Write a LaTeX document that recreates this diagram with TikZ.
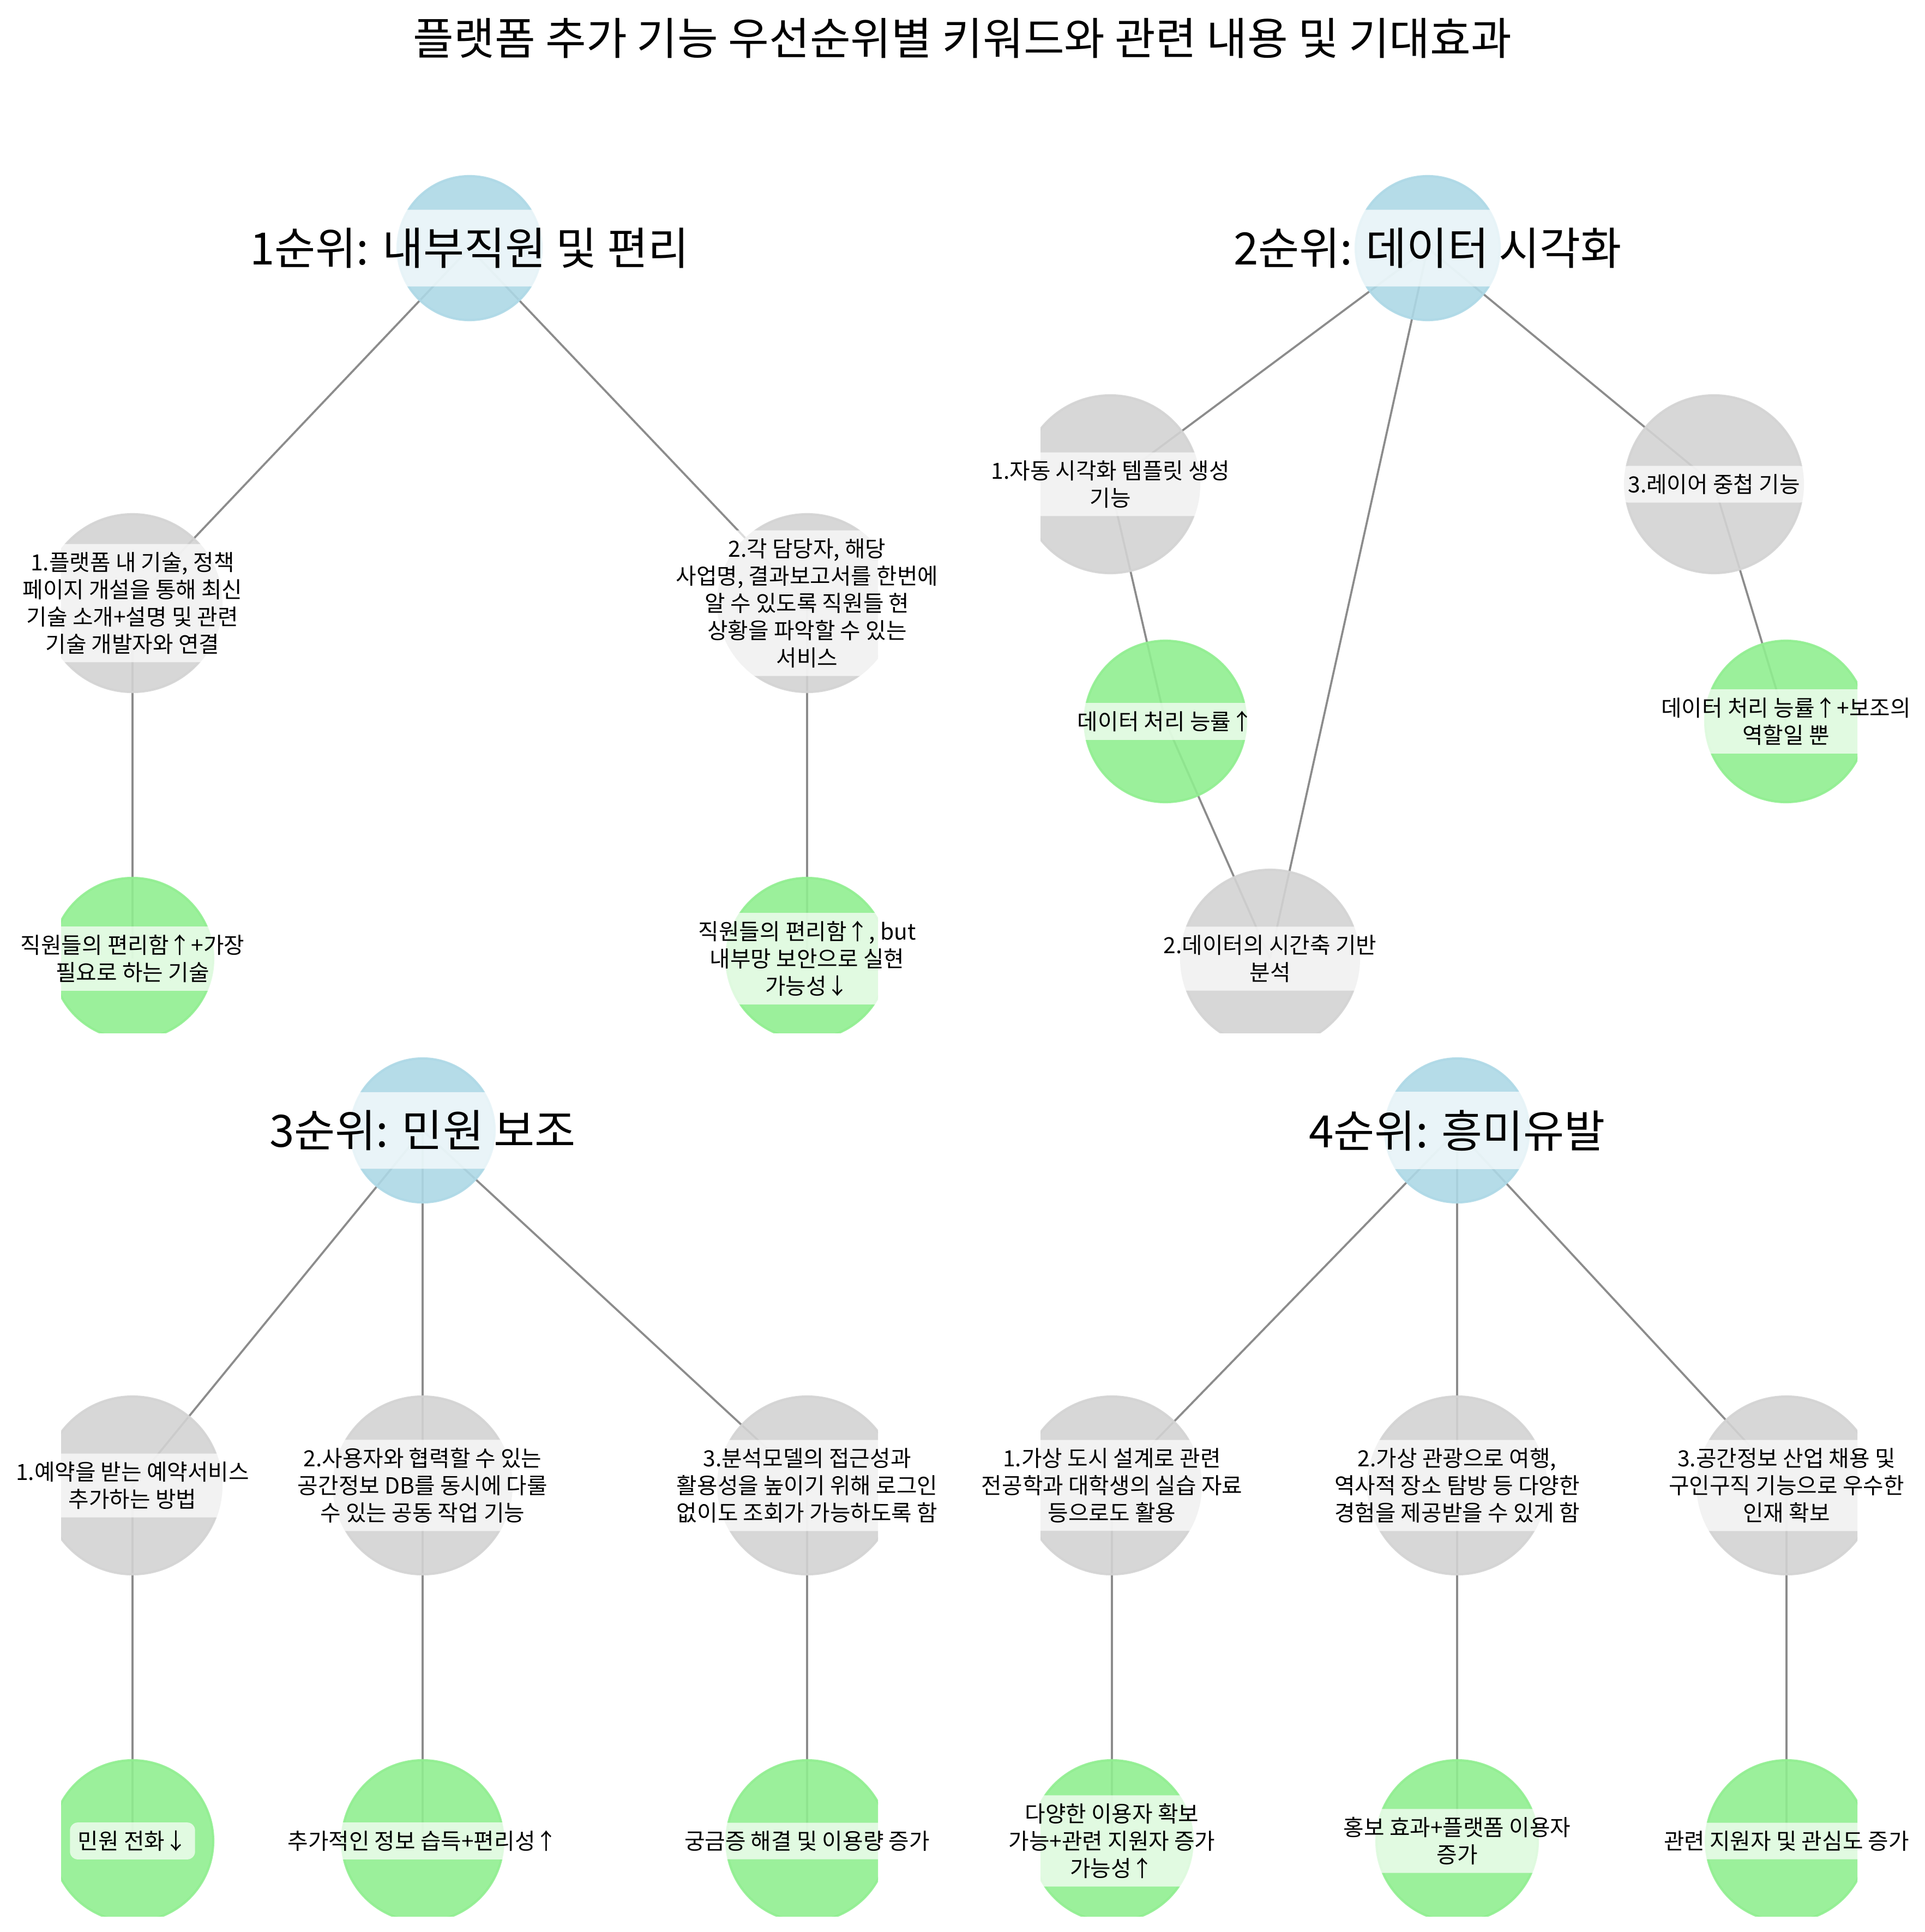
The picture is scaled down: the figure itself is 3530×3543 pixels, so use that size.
\documentclass[tikz,border=0pt]{standalone}
\usepackage{fontspec}
\setmainfont{Noto Sans CJK KR}
\definecolor{RootBlue}{HTML}{ADD8E6}
\definecolor{FeatGray}{HTML}{D3D3D3}
\definecolor{GainGreen}{HTML}{90EE90}
\definecolor{LinkGray}{HTML}{808080}
\tikzset{
  link/.style={draw=LinkGray, draw opacity=0.9, line width=0.9pt},
  rootdot/.style={fill=RootBlue, draw=RootBlue, fill opacity=0.9, draw opacity=0.9, line width=1pt},
  featdot/.style={fill=FeatGray, draw=FeatGray, fill opacity=0.9, draw opacity=0.9, line width=1pt},
  gaindot/.style={fill=GainGreen, draw=GainGreen, fill opacity=0.9, draw opacity=0.9, line width=1pt},
  lbl/.style={fill=white, fill opacity=0.7, text opacity=1, rounded corners=3.5pt,
    inner xsep=3.5pt, inner ysep=3.6pt, align=center, font=\fontsize{9.8}{12}\selectfont},
  rootlbl/.style={lbl, rounded corners=8pt, inner sep=8pt, font=\fontsize{19.6}{23}\selectfont},
}

\begin{document}
\begin{tikzpicture}[x=0.24pt, y=-0.24pt]
  \useasboundingbox (0,0) rectangle (3530,3543);

  \node[anchor=base, font=\fontsize{19.5}{23}\selectfont] (title) at (1765,101)
    {플랫폼 추가 기능 우선순위별 키워드와 관련 내용 및 기대효과};

  % 1순위
  \coordinate (s1r) at (861,455);
  \coordinate (s1f1) at (243,1106);
  \coordinate (s1f2) at (1480,1106);
  \coordinate (s1e1) at (243,1758);
  \coordinate (s1e2) at (1480,1758);
  \begin{scope}
    \clip (112,318) rectangle (1610,1894);
    \draw[link] (s1r) -- (s1f1);
    \draw[link] (s1r) -- (s1f2);
    \draw[link] (s1f1) -- (s1e1);
    \draw[link] (s1f2) -- (s1e2);
    \draw[rootdot] (s1r) circle[radius=132];
    \foreach \p in {s1f1,s1f2} \draw[featdot] (\p) circle[radius=163];
    \foreach \p in {s1e1,s1e2} \draw[gaindot] (\p) circle[radius=148];
  \end{scope}
  \node[rootlbl] (s1r-t) at (s1r) {1순위: 내부직원 및 편리};
  \node[lbl] (s1f1-t) at (s1f1) {1.플랫폼 내 기술, 정책\\페이지 개설을 통해 최신\\기술 소개+설명 및 관련\\기술 개발자와 연결};
  \node[lbl] (s1f2-t) at (s1f2) {2.각 담당자, 해당\\사업명, 결과보고서를 한번에\\알 수 있도록 직원들 현\\상황을 파악할 수 있는\\서비스};
  \node[lbl] (s1e1-t) at (s1e1) {직원들의 편리함↑+가장\\필요로 하는 기술};
  \node[lbl] (s1e2-t) at (s1e2) {직원들의 편리함↑, but\\내부망 보안으로 실현\\가능성↓};

  % 2순위
  \coordinate (s2r) at (2618,455);
  \coordinate (s2f1) at (2036,888);
  \coordinate (s2f2) at (2329,1758);
  \coordinate (s2f3) at (3143,888);
  \coordinate (s2e1) at (2137,1323);
  \coordinate (s2e3) at (3275,1323);
  \begin{scope}
    \clip (1908,318) rectangle (3406,1894);
    \draw[link] (s2r) -- (s2f1);
    \draw[link] (s2r) -- (s2f2);
    \draw[link] (s2r) -- (s2f3);
    \draw[link] (s2f1) -- (s2e1);
    \draw[link] (s2f2) -- (s2e1);
    \draw[link] (s2f3) -- (s2e3);
    \draw[rootdot] (s2r) circle[radius=132];
    \foreach \p in {s2f1,s2f2,s2f3} \draw[featdot] (\p) circle[radius=163];
    \foreach \p in {s2e1,s2e3} \draw[gaindot] (\p) circle[radius=148];
  \end{scope}
  \node[rootlbl] (s2r-t) at (s2r) {2순위: 데이터 시각화};
  \node[lbl] (s2f1-t) at (s2f1) {1.자동 시각화 템플릿 생성\\기능};
  \node[lbl] (s2f2-t) at (s2f2) {2.데이터의 시간축 기반\\분석};
  \node[lbl] (s2f3-t) at (s2f3) {3.레이어 중첩 기능};
  \node[lbl] (s2e1-t) at (s2e1) {데이터 처리 능률↑};
  \node[lbl] (s2e3-t) at (s2e3) {데이터 처리 능률↑+보조의\\역할일 뿐};

  % 3순위
  \coordinate (s3r) at (775,2073);
  \coordinate (s3f1) at (243,2724);
  \coordinate (s3f2) at (775,2724);
  \coordinate (s3f3) at (1480,2724);
  \coordinate (s3e1) at (243,3376);
  \coordinate (s3e2) at (775,3376);
  \coordinate (s3e3) at (1480,3376);
  \begin{scope}
    \clip (112,1937) rectangle (1610,3514);
    \foreach \i in {1,2,3} {
      \draw[link] (s3r) -- (s3f\i);
      \draw[link] (s3f\i) -- (s3e\i);
    }
    \draw[rootdot] (s3r) circle[radius=132];
    \foreach \i in {1,2,3} {
      \draw[featdot] (s3f\i) circle[radius=163];
      \draw[gaindot] (s3e\i) circle[radius=148];
    }
  \end{scope}
  \node[rootlbl] (s3r-t) at (s3r) {3순위: 민원 보조};
  \node[lbl] (s3f1-t) at (s3f1) {1.예약을 받는 예약서비스\\추가하는 방법};
  \node[lbl] (s3f2-t) at (s3f2) {2.사용자와 협력할 수 있는\\공간정보 DB를 동시에 다룰\\수 있는 공동 작업 기능};
  \node[lbl] (s3f3-t) at (s3f3) {3.분석모델의 접근성과\\활용성을 높이기 위해 로그인\\없이도 조회가 가능하도록 함};
  \node[lbl] (s3e1-t) at (s3e1) {민원 전화↓};
  \node[lbl] (s3e2-t) at (s3e2) {추가적인 정보 습득+편리성↑};
  \node[lbl] (s3e3-t) at (s3e3) {궁금증 해결 및 이용량 증가};

  % 4순위
  \coordinate (s4r) at (2672,2073);
  \coordinate (s4f1) at (2039,2724);
  \coordinate (s4f2) at (2672,2724);
  \coordinate (s4f3) at (3276,2724);
  \coordinate (s4e1) at (2039,3376);
  \coordinate (s4e2) at (2672,3376);
  \coordinate (s4e3) at (3276,3376);
  \begin{scope}
    \clip (1908,1937) rectangle (3406,3514);
    \foreach \i in {1,2,3} {
      \draw[link] (s4r) -- (s4f\i);
      \draw[link] (s4f\i) -- (s4e\i);
    }
    \draw[rootdot] (s4r) circle[radius=132];
    \foreach \i in {1,2,3} {
      \draw[featdot] (s4f\i) circle[radius=163];
      \draw[gaindot] (s4e\i) circle[radius=148];
    }
  \end{scope}
  \node[rootlbl] (s4r-t) at (s4r) {4순위: 흥미유발};
  \node[lbl] (s4f1-t) at (s4f1) {1.가상 도시 설계로 관련\\전공학과 대학생의 실습 자료\\등으로도 활용};
  \node[lbl] (s4f2-t) at (s4f2) {2.가상 관광으로 여행,\\역사적 장소 탐방 등 다양한\\경험을 제공받을 수 있게 함};
  \node[lbl] (s4f3-t) at (s4f3) {3.공간정보 산업 채용 및\\구인구직 기능으로 우수한\\인재 확보};
  \node[lbl] (s4e1-t) at (s4e1) {다양한 이용자 확보\\가능+관련 지원자 증가\\가능성↑};
  \node[lbl] (s4e2-t) at (s4e2) {홍보 효과+플랫폼 이용자\\증가};
  \node[lbl] (s4e3-t) at (s4e3) {관련 지원자 및 관심도 증가};
\end{tikzpicture}
\end{document}
